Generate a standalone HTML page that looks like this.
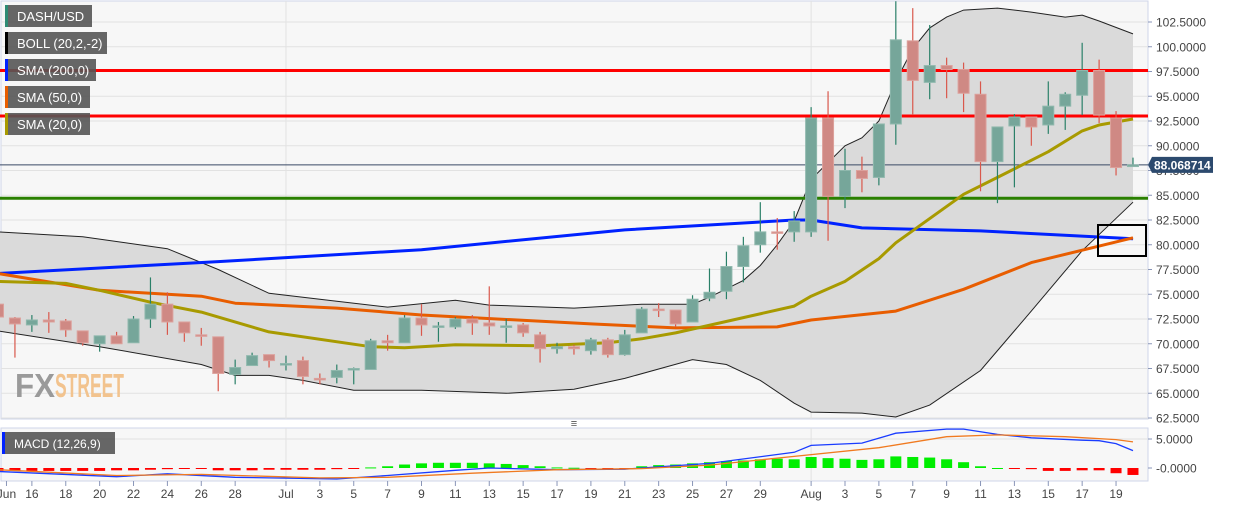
<!DOCTYPE html>
<html><head><meta charset="utf-8">
<style>
html,body{margin:0;padding:0;background:#fff;}
svg{display:block;font-family:"Liberation Sans",sans-serif;}
</style></head>
<body>
<svg id="chart" width="1244" height="506" viewBox="0 0 1244 506">
  <rect x="0" y="0" width="1244" height="506" fill="#ffffff"/>
  <rect x="1" y="1" width="1147" height="418" fill="#f7f7f7" stroke="#cfd6e8" stroke-width="1"/>
  <rect x="1" y="428" width="1147" height="53" fill="#f7f7f7" stroke="#cfd6e8" stroke-width="1"/>
  <g id="grid"></g>
  <g id="boll"></g>
  <g id="hlines"></g>
  <g id="smas"></g>
  <g id="candles"></g>
  <g id="macd"></g>
  <g id="axes"></g>
  <text x="15" y="397" font-size="33" font-weight="bold" fill="#9a9a9a" textLength="40" lengthAdjust="spacingAndGlyphs">FX</text>
  <text x="55" y="397" font-size="33" font-weight="bold" fill="#f2c38e" textLength="69" lengthAdjust="spacingAndGlyphs">STREET</text>
  <rect x="1098" y="225" width="48" height="31" fill="none" stroke="#000" stroke-width="2"/>
  <g>
    <g><rect x="5" y="5" width="87" height="22" fill="#555" fill-opacity="0.9"/><rect x="5" y="5" width="3" height="22" fill="#2e8b74"/><text x="17" y="21" font-size="13" fill="#fff">DASH/USD</text></g>
    <g><rect x="5" y="32" width="102" height="22" fill="#555" fill-opacity="0.9"/><rect x="5" y="32" width="3" height="22" fill="#000"/><text x="17" y="48" font-size="13" fill="#fff">BOLL (20,2,-2)</text></g>
    <g><rect x="5" y="59" width="91" height="22" fill="#555" fill-opacity="0.9"/><rect x="5" y="59" width="3" height="22" fill="#0022ff"/><text x="17" y="75" font-size="13" fill="#fff">SMA (200,0)</text></g>
    <g><rect x="5" y="86" width="85" height="22" fill="#555" fill-opacity="0.9"/><rect x="5" y="86" width="3" height="22" fill="#e85d00"/><text x="17" y="102" font-size="13" fill="#fff">SMA (50,0)</text></g>
    <g><rect x="5" y="113" width="85" height="22" fill="#555" fill-opacity="0.9"/><rect x="5" y="113" width="3" height="22" fill="#a89a00"/><text x="17" y="129" font-size="13" fill="#fff">SMA (20,0)</text></g>
    <g><rect x="2" y="432" width="113" height="22" fill="#555" fill-opacity="0.9"/><rect x="2" y="432" width="3" height="22" fill="#0022ff"/><text x="14" y="448" font-size="12" fill="#fff">MACD (12,26,9)</text></g>
  </g>
  <text x="574" y="427" font-size="11" fill="#555" text-anchor="middle">≡</text>
</svg>
<script>
// ---- data (index 0 = Jun 14, index 67 = Aug 20) ----
const opens  = [74.0,72.6,71.9,72.4,72.3,71.3,70.0,70.8,70.1,72.5,74.0,72.2,70.9,70.7,66.9,67.8,68.9,68.0,68.3,66.5,66.6,67.5,67.4,70.3,70.1,72.6,71.8,71.7,72.5,72.1,71.8,71.9,70.9,69.5,69.7,69.3,70.4,68.9,71.1,73.5,73.4,72.2,74.6,75.3,77.8,80.0,81.3,81.3,81.3,92.8,84.9,87.5,86.8,92.2,100.6,96.4,98.1,97.7,95.2,88.4,92.0,92.9,92.1,94.0,95.1,97.6,92.8,87.9];
const closes = [72.7,72.0,72.4,72.2,71.4,70.1,70.8,70.0,72.5,74.0,72.2,71.1,70.8,67.0,67.6,68.8,68.3,68.0,66.7,66.4,67.3,67.5,70.3,70.1,72.6,71.9,71.8,72.5,72.1,71.8,71.8,71.1,69.5,69.7,69.5,70.4,68.9,70.9,73.5,73.4,72.0,74.5,75.2,77.8,79.9,81.3,81.2,82.4,92.8,84.9,87.5,86.7,92.2,100.7,96.6,98.1,97.7,95.3,88.4,91.9,92.9,91.9,94.0,95.2,97.6,93.1,87.8,88.07];
const highs  = [74.5,72.7,72.9,73.2,72.5,71.3,70.8,71.2,72.8,76.7,75.2,72.2,71.6,70.7,68.4,69.1,68.9,68.8,68.7,67.0,67.9,67.6,70.5,70.9,72.9,74.0,72.2,72.7,72.9,75.8,72.5,72.1,71.2,70.1,69.9,70.6,70.6,71.4,73.7,74.1,73.4,74.9,77.6,79.3,80.8,84.3,82.7,83.4,93.9,95.5,89.7,88.9,92.2,104.6,103.9,102.2,98.9,98.4,96.5,91.9,93.2,92.9,96.5,95.4,100.4,98.7,93.5,88.8];
const lows   = [72.0,68.6,71.2,71.1,70.7,69.8,69.2,70.0,70.1,71.6,70.9,70.2,69.8,65.2,65.9,67.8,67.6,67.3,65.9,65.9,66.0,65.9,67.4,69.3,70.1,70.8,70.2,71.5,70.9,70.9,70.1,70.7,68.1,69.0,68.9,68.9,68.6,68.8,71.1,72.7,71.7,72.2,74.3,74.5,76.2,79.2,79.5,80.3,80.8,80.4,83.7,85.3,86.0,90.1,93.1,94.7,94.8,93.4,85.4,84.2,85.8,90.0,91.2,91.6,93.1,92.3,87.0,87.9];
const bollUpperIdx = [0,5,10,13,16,20,23,27,29,34,38,41,42,44,45,46,47,48,50,51,52,53,54,55,56,57,59,61,63,64,65,67];
const bollUpperVal = [81.3,80.8,79.6,77.5,75.1,74.3,73.7,74.4,73.9,73.6,74.0,74.0,74.7,76.4,77.9,80.0,82.4,86.6,90.0,90.8,92.5,96.5,99.8,101.9,103.0,103.7,103.9,103.5,103.0,103.2,102.6,101.3];
const bollLowerIdx = [0,6,12,14,16,18,21,25,30,34,37,41,43,45,47,48,51,53,55,58,61,64,67];
const bollLowerVal = [71.3,69.7,67.9,66.8,66.8,66.3,65.3,65.3,65.0,65.4,66.5,68.4,67.9,66.3,64.0,63.1,63.0,62.6,63.8,67.3,73.3,79.4,84.3];
const sma20Idx = [0,4,6,9,12,16,22,24,27,32,36,38,40,47,48,50,52,53,57,59,62,64,65,67];
const sma20Val = [76.3,76.1,75.4,74.2,73.2,71.2,69.7,69.6,69.9,69.8,70.1,70.5,71.1,73.8,74.8,76.3,78.6,80.2,85.1,86.8,89.4,91.5,92.1,92.7];
const sma50Idx = [0,6,12,14,20,25,35,40,46,48,53,57,61,67];
const sma50Val = [77.1,75.4,74.8,74.1,73.6,72.9,72.0,71.6,71.7,72.4,73.3,75.5,78.2,80.7];
const sma200Idx = [0,13,25,37,47,48,51,58,67];
const sma200Val = [77.1,78.3,79.5,81.5,82.5,82.5,81.7,81.4,80.6];
const levels = [97.6, 93.0];
const supportLevel = 84.7;
const lastPrice = 88.068714;
const macdHist = [-0.5,-0.5,-0.5,-0.5,-0.5,-0.5,-0.5,-0.4,-0.4,-0.3,-0.2,-0.1,-0.1,-0.4,-0.4,-0.4,-0.3,-0.3,-0.3,-0.3,-0.2,-0.1,0.1,0.3,0.6,0.8,0.9,0.9,0.9,0.8,0.7,0.5,0.3,0.1,0.05,-0.05,-0.1,-0.05,0.3,0.5,0.6,0.8,1.0,1.2,1.3,1.5,1.6,1.5,1.9,1.7,1.6,1.4,1.5,2.0,1.9,1.8,1.5,1.0,0.3,0.0,-0.1,-0.2,-0.5,-0.5,-0.4,-0.4,-0.9,-1.2];
const macdLineIdx = [0,7,10,14,20,23,27,29,33,37,38,42,47,48,51,53,56,57,59,61,64,65,66,67];
const macdLineVal = [-0.6,-1.5,-1.0,-1.6,-1.9,-1.3,-0.4,0,-0.3,-0.2,0,0.8,2.7,3.9,4.3,6.0,6.7,6.7,5.8,5.2,4.8,4.7,4.2,3.0];
const signalIdx = [0,7,12,19,23,28,33,38,42,47,52,56,59,63,66,67];
const signalVal = [-0.3,-1.3,-1.1,-1.7,-1.6,-0.9,-0.3,-0.1,0.5,2.0,3.5,5.4,5.7,5.4,4.9,4.5];
const priceTicks = [102.5,100,97.5,95,92.5,90,87.5,85,82.5,80,77.5,75,72.5,70,67.5,65,62.5];
const macdTicks = [5, 0];
const dateLabels = ["Jun","16","18","20","22","24","26","28","Jul","3","5","7","9","11","13","15","17","19","21","23","25","27","29","Aug","3","5","7","9","11","13","15","17","19"];
const dateLabelIdx = [0.5,2,4,6,8,10,12,14,17,19,21,23,25,27,29,31,33,35,37,39,41,43,45,48,50,52,54,56,58,60,62,64,66];

const X0 = -2, DX = 16.94;
function xs(i){ return X0 + i*DX; }
function ys(v){ return 22 + (102.5 - v)*9.9; }
function ym(v){ return 468 - v*5.8; }
const NS = "http://www.w3.org/2000/svg";
function mk(tag, attrs, parent){ const e=document.createElementNS(NS,tag); for(const k in attrs) e.setAttribute(k,attrs[k]); parent.appendChild(e); return e; }
function pathFrom(idx, val, yf){ return idx.map((d,k)=>(k?"L":"M")+xs(d).toFixed(1)+","+yf(val[k]).toFixed(1)).join(" "); }

const grid = document.getElementById("grid");
priceTicks.forEach(t=>{
  const l = mk("line",{x1:1,x2:1148,y1:ys(t),y2:ys(t),stroke:"#e2e2e2","stroke-width":1},grid);
  
  
});
[17,48].forEach(d=>{
  const l = mk("line",{x1:xs(d),x2:xs(d),y1:1,y2:419,stroke:"#e2e2e2","stroke-width":1},grid);
  
  
  const l2 = mk("line",{x1:xs(d),x2:xs(d),y1:428,y2:481,stroke:"#e2e2e2","stroke-width":1},grid);
  
  
});
const mg = mk("line",{x1:1,x2:1148,y1:ym(5),y2:ym(5),stroke:"#e2e2e2"},grid);



const boll = document.getElementById("boll");
const up = pathFrom(bollUpperIdx,bollUpperVal,ys);
const lowRev = bollLowerIdx.map((d,k)=>[d,bollLowerVal[k]]).reverse().map(p=>"L"+xs(p[0]).toFixed(1)+","+ys(p[1]).toFixed(1)).join(" ");
const fill = mk("path",{d:up+" "+lowRev+" Z",fill:"#dadada"},boll);


const ub = mk("path",{d:up,fill:"none",stroke:"#222","stroke-width":1},boll);


const lb = mk("path",{d:pathFrom(bollLowerIdx,bollLowerVal,ys),fill:"none",stroke:"#222","stroke-width":1},boll);



const hl = document.getElementById("hlines");
levels.forEach(v=>{
  const l = mk("line",{x1:0,x2:1148,y1:ys(v),y2:ys(v),stroke:"#ff0000","stroke-width":3},hl);
  
  
});
const sl = mk("line",{x1:0,x2:1148,y1:ys(supportLevel),y2:ys(supportLevel),stroke:"#2a8000","stroke-width":3},hl);


const pl = mk("line",{x1:0,x2:1148,y1:ys(lastPrice),y2:ys(lastPrice),stroke:"#3a4a66","stroke-width":1},hl);



const smas = document.getElementById("smas");
const s200 = mk("path",{d:pathFrom(sma200Idx,sma200Val,ys),fill:"none",stroke:"#0022ff","stroke-width":3,"stroke-linejoin":"round"},smas);


const s50 = mk("path",{d:pathFrom(sma50Idx,sma50Val,ys),fill:"none",stroke:"#e85d00","stroke-width":3,"stroke-linejoin":"round"},smas);


const s20 = mk("path",{d:pathFrom(sma20Idx,sma20Val,ys),fill:"none",stroke:"#a89a00","stroke-width":3,"stroke-linejoin":"round"},smas);



const cg = document.getElementById("candles");
opens.forEach((o,i)=>{
  const c = closes[i], up = c>=o;
  const x = xs(i);
  const g = mk("g",{},cg);
  
  
  mk("line",{x1:x,x2:x,y1:ys(highs[i]),y2:ys(lows[i]),stroke:up?"#2a8068":"#d9584c","stroke-width":1.2},g);
  const top = ys(Math.max(o,c)), h = Math.max(1.5, Math.abs(ys(o)-ys(c)));
  mk("rect",{x:x-5.5,y:top,width:11,height:h,fill:up?"#76a69a":"#cf8984",stroke:up?"#8fb8ad":"#dca19c","stroke-width":1},g);
});

const mgp = document.getElementById("macd");
macdHist.forEach((v,i)=>{
  const y0 = ym(0), y1 = ym(v);
  const r = mk("rect",{x:xs(i)-5.5,y:Math.min(y0,y1),width:11,height:Math.max(1,Math.abs(y1-y0)),fill:v>=0?"#00ee00":"#ff0000"},mgp);
  
  
});
const ml = mk("path",{d:pathFrom(macdLineIdx,macdLineVal,ym),fill:"none",stroke:"#1a3cff","stroke-width":1.3},mgp);


const sg = mk("path",{d:pathFrom(signalIdx,signalVal,ym),fill:"none",stroke:"#f07a20","stroke-width":1.3},mgp);



const ax = document.getElementById("axes");
priceTicks.forEach(t=>{
  mk("line",{x1:1148,x2:1152,y1:ys(t),y2:ys(t),stroke:"#8a96b8"},ax);
  const tx = mk("text",{x:1156,y:ys(t)+4.5,"font-size":12,fill:"#444"},ax);
  tx.textContent = t.toFixed(4);
  
  
});
macdTicks.forEach(t=>{
  mk("line",{x1:1148,x2:1152,y1:ym(t),y2:ym(t),stroke:"#8a96b8"},ax);
  const tx = mk("text",{x:1156,y:ym(t)+4.5,"font-size":12,fill:"#444"},ax);
  tx.textContent = t===0 ? "-0.0000" : t.toFixed(4);
  
  
});
dateLabels.forEach((lab,k)=>{
  const x = xs(dateLabelIdx[k]);
  mk("line",{x1:x,x2:x,y1:481,y2:486,stroke:"#8a96b8"},ax);
  const tx = mk("text",{x:x,y:498,"font-size":12,fill:"#444","text-anchor":"middle"},ax);
  tx.textContent = lab;
  
  
});
const py = ys(lastPrice);
const pb = mk("path",{d:`M1148,${py} L1152,${py-8} L1213,${py-8} L1213,${py+8} L1152,${py+8} Z`,fill:"#2c4a6e"},ax);


const pt = mk("text",{x:1154,y:py+4.5,"font-size":12,"font-weight":"bold",fill:"#fff"},ax);
pt.textContent = lastPrice.toFixed(6);


</script>
</body></html>
